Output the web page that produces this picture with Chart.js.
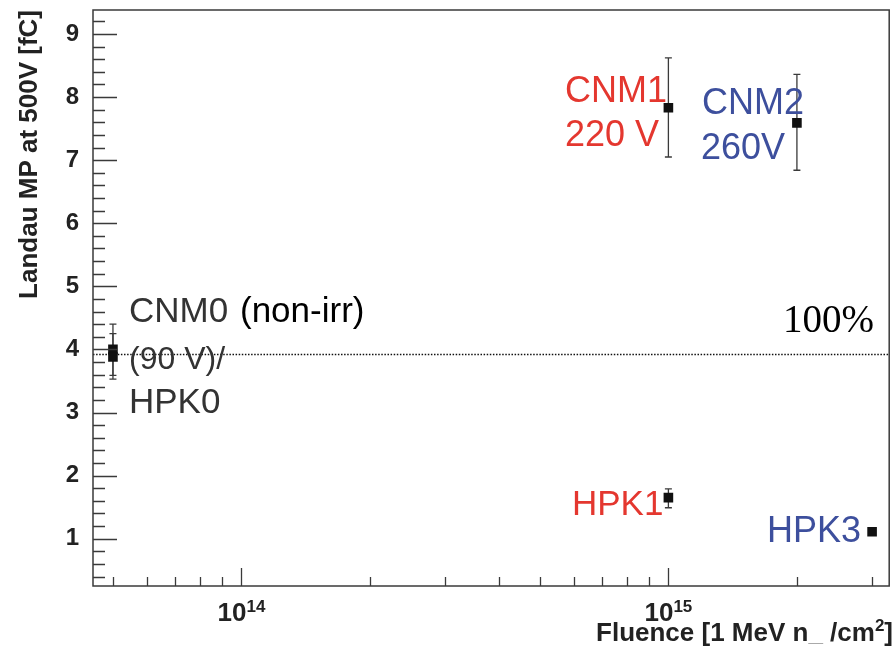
<!DOCTYPE html>
<html><head><meta charset="utf-8">
<script src="https://cdn.jsdelivr.net/npm/chart.js@4.4.0/dist/chart.umd.min.js"></script>
<style>html,body{margin:0;padding:0;background:#fff}canvas{display:block}</style>
</head><body><canvas id="c" width="896" height="646"></canvas>
<script>
// ---- data ----
const sensors  = ['CNM0', 'HPK0', 'CNM1', 'CNM2', 'HPK1', 'HPK3'];
const fluence  = [5e13, 5e13, 1e15, 2e15, 1e15, 3e15];
const landauMP = [4.00, 3.88, 7.83, 7.59, 1.65, 1.11];
const errUp    = [0.40, 0.37, 0.79, 0.77, 0.14, 0.04];
const errDown  = [0.41, 0.35, 0.78, 0.75, 0.16, 0.04];
const referenceLevel = 3.93;
const yTickValues = [1, 2, 3, 4, 5, 6, 7, 8, 9];
const xMajorTicks = [1e14, 1e15];
const xMajorLabels = [['10', '14'], ['10', '15']];
const xMinorTicks = [5e13, 6e13, 7e13, 8e13, 9e13, 2e14, 3e14, 4e14, 5e14, 6e14, 7e14, 8e14, 9e14, 2e15, 3e15];

const F = "'Liberation Sans', Arial, sans-serif";
const RED = '#e4372f', BLUE = '#3d4f9d', DARK = '#333333';

const decor = {
  id: 'decor',
  beforeDatasetsDraw(chart) {
    const { ctx, chartArea: a, scales: { x, y } } = chart;
    ctx.save();
    // 100% dotted reference line
    ctx.strokeStyle = '#111'; ctx.lineWidth = 1.5; ctx.setLineDash([1.5, 1.6]);
    const yr = Math.round(y.getPixelForValue(referenceLevel)) + 0.5;
    ctx.beginPath(); ctx.moveTo(a.left, yr); ctx.lineTo(a.right, yr); ctx.stroke();
    ctx.setLineDash([]);
    // error bars
    ctx.strokeStyle = '#3a3a3a'; ctx.lineWidth = 1.3;
    for (let i = 0; i < fluence.length; i++) {
      const px = x.getPixelForValue(fluence[i]);
      const t = y.getPixelForValue(landauMP[i] + errUp[i]);
      const b = y.getPixelForValue(landauMP[i] - errDown[i]);
      ctx.beginPath();
      ctx.moveTo(px, t); ctx.lineTo(px, b);
      ctx.moveTo(px - 3.5, t); ctx.lineTo(px + 3.5, t);
      ctx.moveTo(px - 3.5, b); ctx.lineTo(px + 3.5, b);
      ctx.stroke();
    }
    ctx.restore();
  },
  afterDraw(chart) {
    const { ctx, chartArea: a, scales: { x, y } } = chart;
    ctx.save();
    // frame
    ctx.strokeStyle = '#3a3a3a'; ctx.lineWidth = 1.5;
    ctx.strokeRect(a.left, a.top, a.right - a.left, a.bottom - a.top);
    // y ticks (inside)
    ctx.lineWidth = 1.3;
    ctx.beginPath();
    for (let k = 2; k <= 46; k++) {
      const v = k / 5;
      const py = Math.round(y.getPixelForValue(v)) + 0.5;
      if (py < a.top || py > a.bottom) continue;
      const len = (k % 5 === 0) ? 24 : 12;
      ctx.moveTo(a.left, py); ctx.lineTo(a.left + len, py);
    }
    // x ticks (inside)
    xMinorTicks.forEach(v => {
      const px = Math.round(x.getPixelForValue(v)) + 0.5;
      ctx.moveTo(px, a.bottom); ctx.lineTo(px, a.bottom - 9);
    });
    xMajorTicks.forEach(v => {
      const px = Math.round(x.getPixelForValue(v)) + 0.5;
      ctx.moveTo(px, a.bottom); ctx.lineTo(px, a.bottom - 18);
    });
    ctx.stroke();

    // x tick labels with superscripts
    ctx.fillStyle = '#222'; ctx.textBaseline = 'alphabetic'; ctx.textAlign = 'left';
    xMajorTicks.forEach((v, i) => {
      const px = x.getPixelForValue(v);
      ctx.font = 'bold 26px ' + F;
      const w1 = ctx.measureText(xMajorLabels[i][0]).width;
      ctx.font = 'bold 17px ' + F;
      const w2 = ctx.measureText(xMajorLabels[i][1]).width;
      const x0 = px - (w1 + w2) / 2;
      ctx.font = 'bold 26px ' + F;
      ctx.fillText(xMajorLabels[i][0], x0, a.bottom + 35);
      ctx.font = 'bold 17px ' + F;
      ctx.fillText(xMajorLabels[i][1], x0 + w1, a.bottom + 26);
    });

    // x axis title, right aligned
    const parts = [
      ['Fluence [1 MeV n', 'bold 26px ' + F, 0],
      ['_', 'bold 26px ' + F, 0, '#aaa'],
      [' /cm', 'bold 26px ' + F, 0],
      ['2', 'bold 17px ' + F, -10],
      [']', 'bold 26px ' + F, 0]
    ];
    let total = 0;
    parts.forEach(p => { ctx.font = p[1]; total += ctx.measureText(p[0]).width; });
    let cx = 893 - total;
    parts.forEach(p => {
      ctx.font = p[1]; ctx.fillStyle = p[3] || '#222';
      ctx.fillText(p[0], cx, 641 + p[2]);
      cx += ctx.measureText(p[0]).width;
    });

    // annotations
    const notes = [
      ['CNM1', RED, '36px ' + F, 565, 102],
      ['220 V', RED, '36px ' + F, 565, 146],
      ['CNM2', BLUE, '36px ' + F, 702, 114],
      ['260V', BLUE, '36px ' + F, 701, 159],
      ['CNM0', DARK, '35px ' + F, 129, 322],
      ['(non-irr)', '#000', '35px ' + F, 240, 322],
      ['(90 V)/', DARK, '32px ' + F, 129, 369],
      ['HPK0', DARK, '35px ' + F, 129, 413],
      ['100%', '#000', '39px "Liberation Serif", "Times New Roman", serif', 783, 332],
      ['HPK1', RED, '35px ' + F, 572, 515],
      ['HPK3', BLUE, '36px ' + F, 767, 542]
    ];
    notes.forEach(n => {
      ctx.fillStyle = n[1]; ctx.font = n[2];
      ctx.fillText(n[0], n[3], n[4]);
    });
    ctx.restore();
  }
};

new Chart(document.getElementById('c'), {
  type: 'scatter',
  data: {
    datasets: [{
      label: 'Landau MP',
      data: fluence.map((f, i) => ({ x: f, y: landauMP[i] })),
      pointStyle: 'rect',
      pointRadius: 6.8,
      pointHoverRadius: 6.8,
      backgroundColor: '#111',
      borderColor: '#111',
      borderWidth: 0,
      showLine: false
    }]
  },
  options: {
    responsive: false,
    animation: false,
    events: [],
    layout: { padding: { top: 10, right: 2, bottom: 60, left: 0 } },
    plugins: { legend: { display: false }, tooltip: { enabled: false } },
    scales: {
      x: {
        type: 'logarithmic',
        min: 4.49e13,
        max: 3.29e15,
        display: false
      },
      y: {
        type: 'linear',
        min: 0.25,
        max: 9.38,
        grid: { display: false },
        border: { display: false },
        afterBuildTicks(scale) { scale.ticks = yTickValues.map(v => ({ value: v })); },
        ticks: {
          padding: 6,
          color: '#222',
          font: { family: F, size: 24, weight: 'bold' }
        },
        title: {
          display: true,
          text: 'Landau MP at 500V [fC]',
          align: 'end',
          color: '#222',
          padding: { top: 14, bottom: 0 },
          font: { family: F, size: 26, weight: 'bold' }
        },
        afterFit(scale) {
          scale.width = 93;
          scale.paddingTop = 0; scale.paddingBottom = 0;
        }
      }
    }
  },
  plugins: [decor]
});
</script>
</body></html>
